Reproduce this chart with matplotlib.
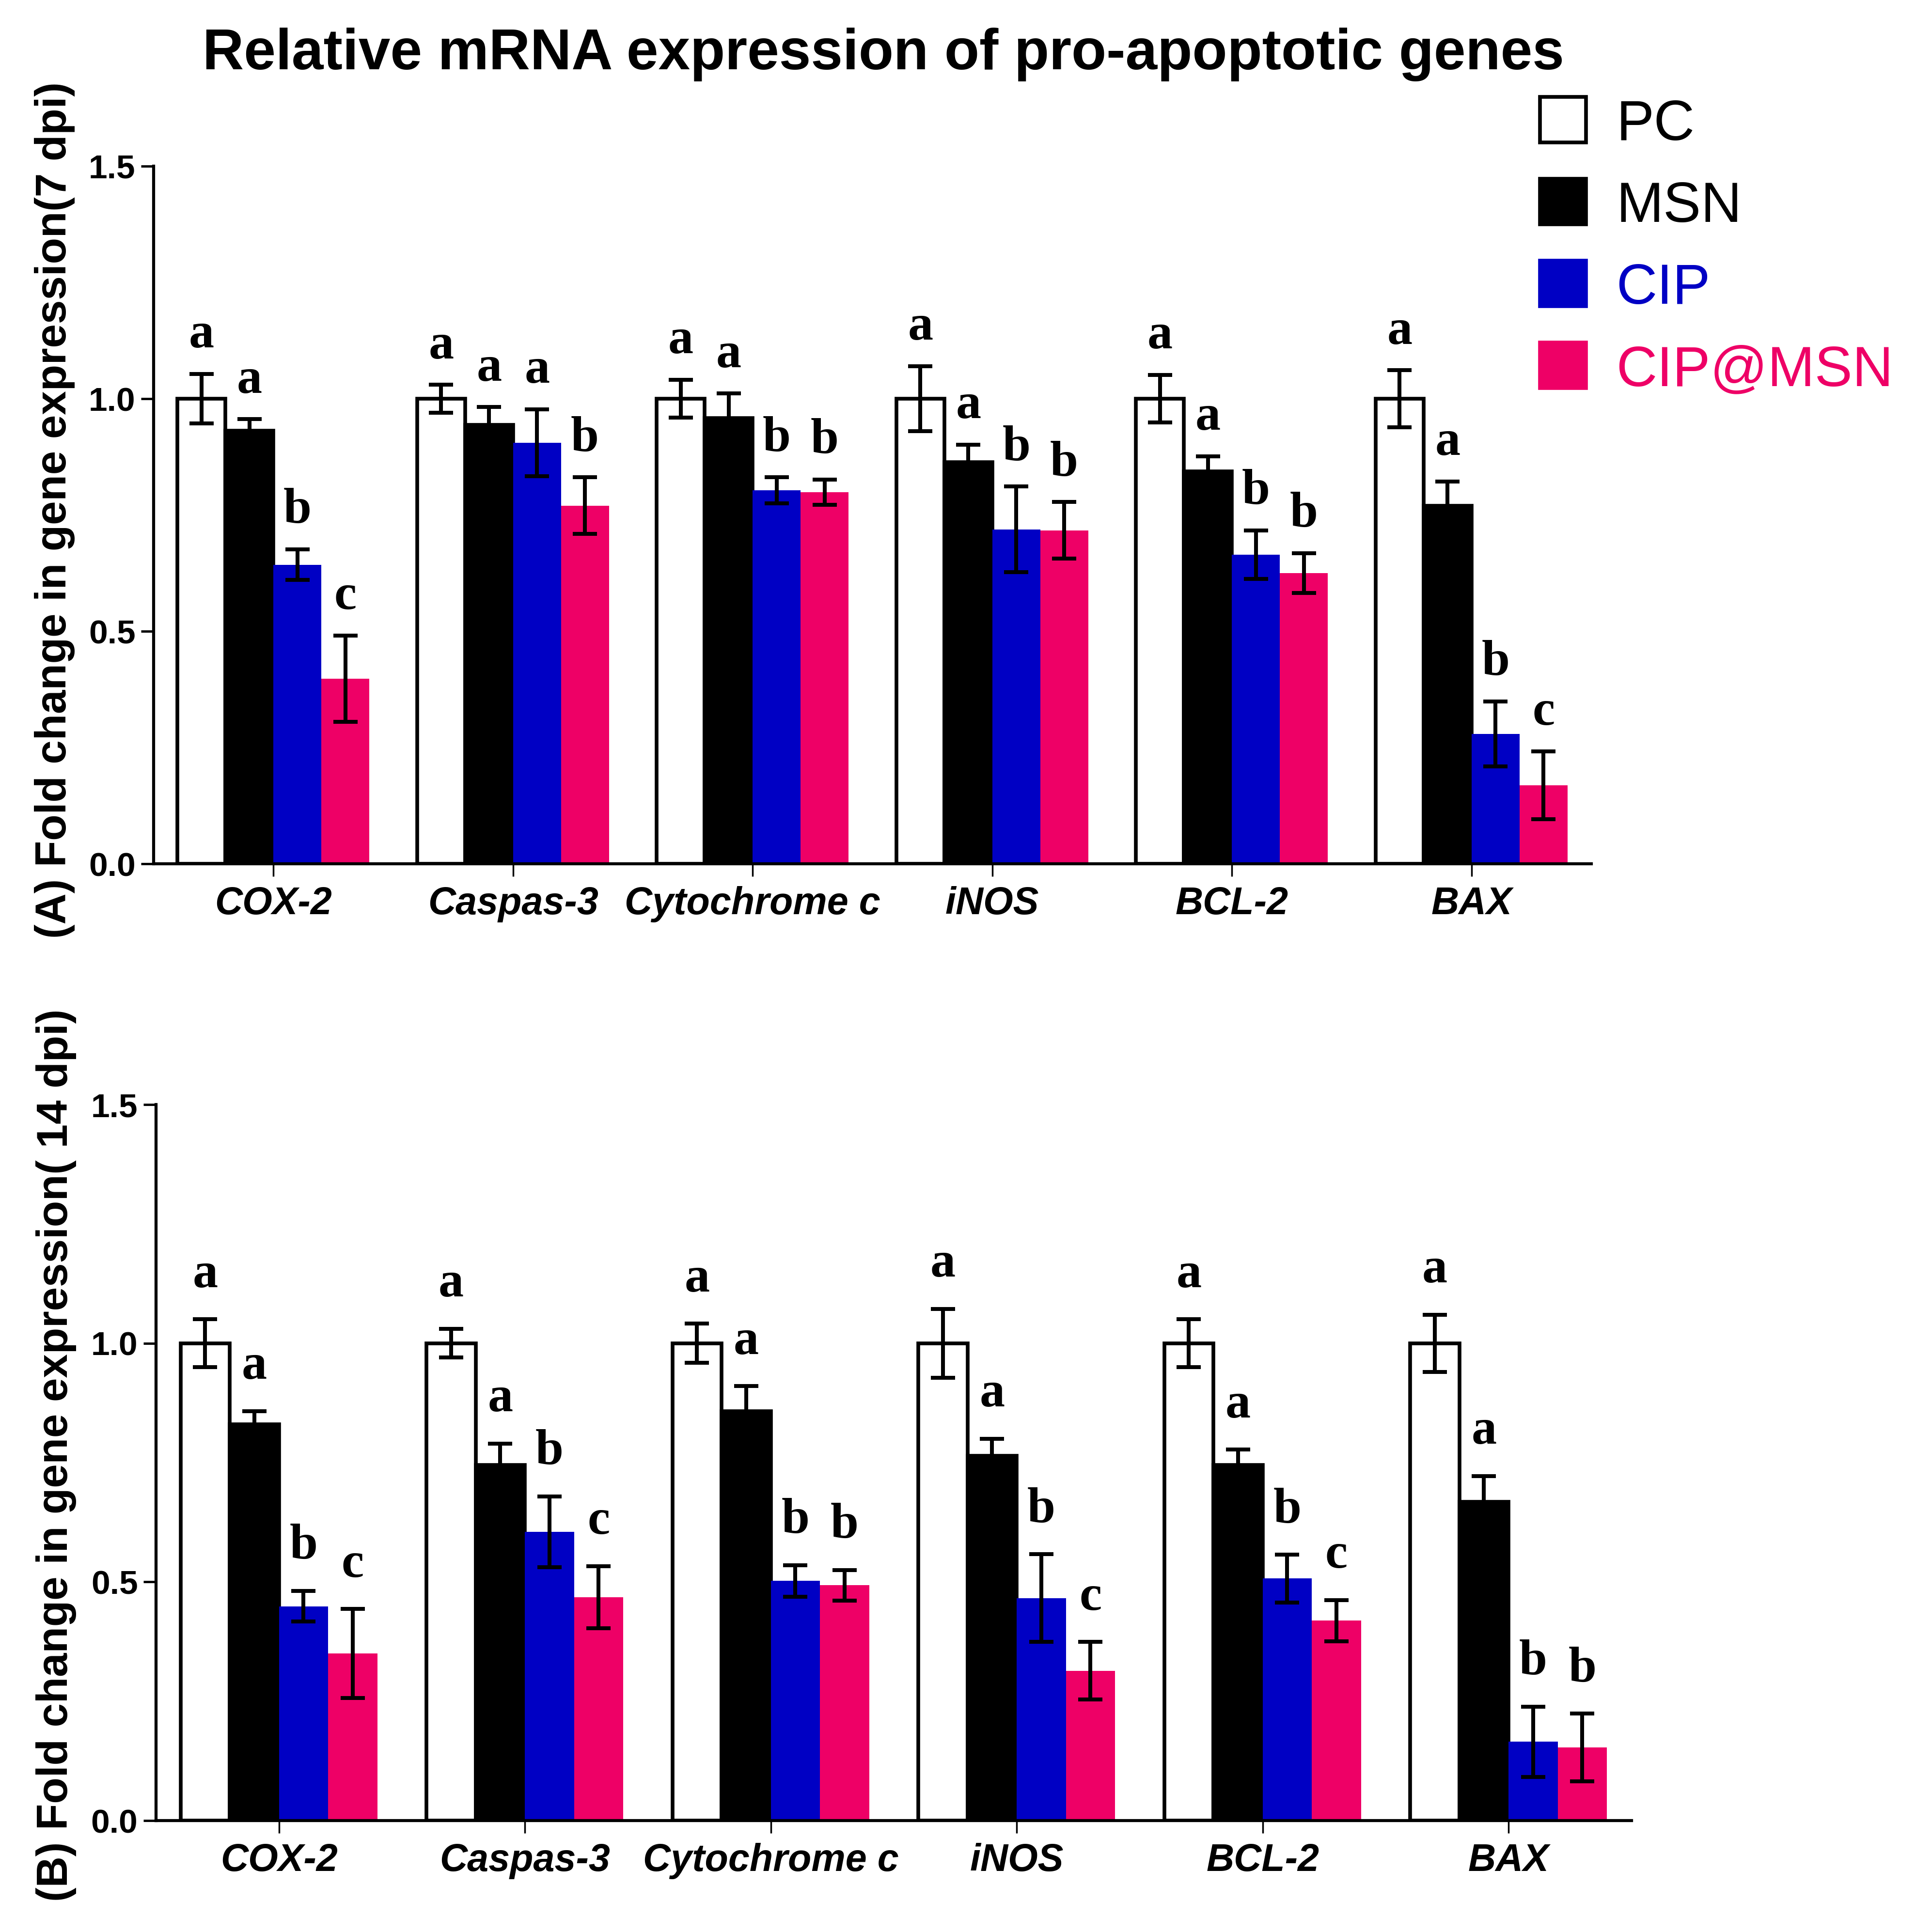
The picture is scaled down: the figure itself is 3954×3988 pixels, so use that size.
import matplotlib
matplotlib.use('Agg')
import matplotlib.pyplot as plt
import numpy as np
from matplotlib.patches import Rectangle

plt.rcParams['font.family'] = ['Liberation Sans', 'DejaVu Sans']

genes = ['COX-2', 'Caspas-3', 'Cytochrome c', 'iNOS', 'BCL-2', 'BAX']
groups = ['PC', 'MSN', 'CIP', 'CIP@MSN']

# (A) 7 dpi
pc_7 = [1.0, 1.0, 1.0, 1.0, 1.0, 1.0]
pc_7_err = [0.053, 0.030, 0.041, 0.070, 0.051, 0.061]
msn_7 = [0.931, 0.944, 0.958, 0.864, 0.844, 0.770]
msn_7_err = [0.025, 0.038, 0.053, 0.037, 0.032, 0.052]
cip_7 = [0.643, 0.905, 0.803, 0.719, 0.665, 0.279]
cip_7_err = [0.033, 0.072, 0.028, 0.092, 0.052, 0.070]
cipmsn_7 = [0.398, 0.770, 0.799, 0.717, 0.625, 0.169]
cipmsn_7_err = [0.093, 0.061, 0.027, 0.061, 0.043, 0.073]
letters_7 = [['a', 'a', 'b', 'c'], ['a', 'a', 'a', 'b'], ['a', 'a', 'b', 'b'],
             ['a', 'a', 'b', 'b'], ['a', 'a', 'b', 'b'], ['a', 'a', 'b', 'c']]

# (B) 14 dpi
pc_14 = [1.0, 1.0, 1.0, 1.0, 1.0, 1.0]
pc_14_err = [0.050, 0.030, 0.041, 0.072, 0.050, 0.060]
msn_14 = [0.830, 0.745, 0.858, 0.764, 0.745, 0.668]
msn_14_err = [0.028, 0.045, 0.052, 0.036, 0.032, 0.054]
cip_14 = [0.449, 0.605, 0.502, 0.466, 0.507, 0.165]
cip_14_err = [0.032, 0.074, 0.033, 0.092, 0.050, 0.074]
cipmsn_14 = [0.350, 0.468, 0.493, 0.314, 0.419, 0.153]
cipmsn_14_err = [0.093, 0.065, 0.032, 0.060, 0.043, 0.071]
letters_14 = [['a', 'a', 'b', 'c'], ['a', 'a', 'b', 'c'], ['a', 'a', 'b', 'b'],
              ['a', 'a', 'b', 'c'], ['a', 'a', 'b', 'c'], ['a', 'a', 'b', 'b']]

fills = ['white', 'black', '#0000C4', '#EE0066']
edges = ['black', 'black', 'none', 'none']
text_colors = ['black', 'black', '#0000C4', '#EE0066']

fig = plt.figure(figsize=(39.55, 39.88), dpi=100)


def draw_panel(ax, means, errs, letters, letter_off):
    x = np.arange(len(genes))
    width = 0.2
    for j in range(len(groups)):
        pos = x + (j - 1.5) * width
        ax.bar(pos, means[j], width, color=fills[j], edgecolor=edges[j],
               linewidth=5.5 if edges[j] != 'none' else 0, zorder=2)
        ax.errorbar(pos, means[j], yerr=errs[j], fmt='none', ecolor='black',
                    elinewidth=5.8, capsize=18, capthick=5.8, zorder=3)
        for i in range(len(genes)):
            ax.text(pos[i], means[j][i] + errs[j][i] + letter_off, letters[i][j],
                    ha='center', va='center', fontsize=75, fontweight='bold',
                    family='Liberation Serif', zorder=4)
    ax.set_xlim(-0.5, 5.5)
    ax.set_ylim(0, 1.5)
    ax.set_yticks([0, 0.5, 1.0, 1.5])
    ax.set_yticklabels(['0.0', '0.5', '1.0', '1.5'])
    ax.set_xticks(x)
    ax.set_xticklabels(genes, fontsize=57, fontweight='bold', style='italic')
    for lab in ax.get_yticklabels():
        lab.set_fontsize(50)
        lab.set_fontweight('bold')
    ax.spines['top'].set_visible(False)
    ax.spines['right'].set_visible(False)
    ax.spines['left'].set_linewidth(4.5)
    ax.spines['bottom'].set_linewidth(4.5)
    ax.tick_params(axis='x', direction='out', length=19, width=2.5, pad=14)
    ax.tick_params(axis='y', direction='out', length=19, width=3.5, pad=8)


ax1 = fig.add_axes([317 / 3955, 1 - 1783 / 3988, 2967 / 3955, 1440 / 3988])
draw_panel(ax1, [pc_7, msn_7, cip_7, cipmsn_7],
           [pc_7_err, msn_7_err, cip_7_err, cipmsn_7_err], letters_7, 0.083)

ax2 = fig.add_axes([322 / 3955, 1 - 3758 / 3988, 3045 / 3955, 1478 / 3988])
draw_panel(ax2, [pc_14, msn_14, cip_14, cipmsn_14],
           [pc_14_err, msn_14_err, cip_14_err, cipmsn_14_err], letters_14, 0.093)

fig.text(0.461, 1 - 143 / 3988, 'Relative mRNA expression of pro-apoptotic genes',
         ha='center', va='baseline', fontsize=85, fontweight='bold')

fig.text(0.0286, 0.736, '(A) Fold change in gene expression(7 dpi)', rotation=90,
         ha='center', va='center', fontsize=64, fontweight='bold')
fig.text(0.0293, 0.2467, '(B) Fold change in gene expression( 14 dpi)', rotation=90,
         ha='center', va='center', fontsize=64, fontweight='bold')

# legend drawn by hand to match the layout
row_y = [247, 416, 585, 754]
for j, name in enumerate(groups):
    cy = 1 - row_y[j] / 3988
    sq = Rectangle((3178 / 3955, cy - 47 / 3988), 95 / 3955, 94 / 3988,
                   transform=fig.transFigure, facecolor=fills[j],
                   edgecolor='black' if j < 2 else fills[j], linewidth=5.5)
    fig.add_artist(sq)
    fig.text(3335 / 3955, cy - 42 / 3988, name, ha='left', va='baseline',
             fontsize=84, color=text_colors[j])

fig.savefig('out.png', dpi=100)
